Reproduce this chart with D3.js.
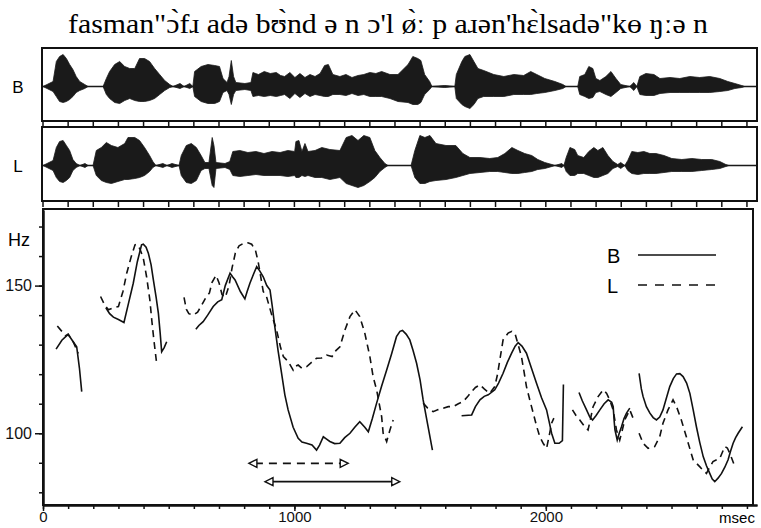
<!DOCTYPE html>
<html>
<head>
<meta charset="utf-8">
<script src="https://cdnjs.cloudflare.com/ajax/libs/d3/7.8.5/d3.min.js"></script>
<style>
  body { margin: 0; background: #fff; }
  svg { display: block; }
</style>
</head>
<body>
<svg id="chart" width="761" height="528"></svg>
<script>
// transcription shown above the panels
const title = "fasman\"ɔ̀fɹ adə bʊ̀nd ə n ɔ'l ø̀ː p aɹən'hɛ̀lsadə\"kɵ ŋːə n";
const speakers = ["B", "L"];

// oscillogram envelopes: [ms, upper amplitude, lower amplitude] (arbitrary units)
const waveB = [
  [0,0,0],[40,5,5],[53,25,10],[66,30,15],[80,32,16],[93,28,15],[106,22,13],[119,17,10],[132,10,6],[146,5,4],[166,2,2],[179,0,0],
  [239,0,0],[252,8,8],[265,15,12],[285,22,16],[305,25,17],[325,20,14],[345,18,12],[365,18,14],[384,28,15],[404,28,15],[424,25,14],[444,18,12],[464,12,8],[484,6,4],[504,2,1],[517,0,0],
  [545,3,2],[561,0,0],[584,3,2],[596,0,0],[603,15,10],[629,20,15],[656,22,17],[683,21,17],[702,20,15],[716,8,6],[732,4,4],[740,10,8],[749,26,18],[758,10,8],[767,4,4],[803,3,3],[827,4,4],
  [835,14,10],[857,12,9],[880,15,10],[904,13,9],[928,14,10],[945,11,9],[961,10,8],[982,14,12],[1002,9,7],[1022,13,11],[1042,9,7],[1062,12,10],[1082,10,8],[1102,13,9],[1120,21,10],[1135,22,10],[1153,12,8],
  [1181,10,8],[1205,12,9],[1229,9,7],[1253,11,9],[1276,12,8],[1300,14,10],[1324,13,10],[1347,15,10],[1380,12,12],[1412,12,15],[1452,22,16],[1471,30,18],[1491,28,18],[1503,26,16],[1518,12,8],[1538,5,3],[1547,0,0],
  [1598,1,1],[1638,0,0],[1644,12,12],[1666,25,18],[1678,30,20],[1698,32,22],[1714,25,18],[1730,18,12],[1753,16,10],[1793,12,10],[1833,10,10],[1873,12,8],[1912,11,8],[1940,15,8],[1964,12,7],[1996,8,6],[2036,5,4],[2068,2,2],[2080,0,0],
  [2127,0,0],[2135,10,8],[2155,12,10],[2171,20,12],[2187,18,11],[2199,8,6],[2215,6,5],[2239,10,8],[2259,15,10],[2279,8,6],[2298,2,2],[2334,0,0],[2350,4,4],[2362,0,0],
  [2374,10,8],[2398,13,9],[2430,12,9],[2454,8,7],[2494,9,6],[2533,8,6],[2573,10,6],[2612,9,6],[2652,10,6],[2692,8,5],[2724,5,4],[2752,3,2],[2779,1,1],[2791,0,0],[2840,0,0]
];
const waveL = [
  [0,0,0],[40,5,5],[53,18,12],[66,24,16],[80,25,17],[93,20,15],[106,15,12],[119,6,5],[132,2,2],[147,0,0],[167,2,2],[179,0,0],
  [199,0,0],[212,15,10],[232,18,15],[252,23,17],[272,20,18],[298,18,16],[325,22,14],[338,28,14],[365,28,13],[384,25,12],[404,18,10],[424,10,6],[437,4,2],[449,0,0],
  [477,2,2],[493,0,0],[513,2,2],[541,0,0],[550,10,10],[570,20,17],[590,22,18],[610,18,15],[629,10,5],[644,3,3],[660,3,3],[673,28,20],[680,20,22],[688,3,3],[724,2,2],[743,4,4],
  [755,14,10],[783,15,11],[815,13,10],[847,14,9],[879,12,10],[911,14,10],[943,13,10],[974,15,11],[1001,14,10],[1006,24,12],[1018,25,12],[1030,14,10],[1042,22,11],[1054,14,10],[1082,15,12],[1109,18,12],[1141,16,14],
  [1181,15,12],[1206,28,18],[1229,30,20],[1253,25,22],[1276,30,20],[1300,28,16],[1320,15,12],[1340,8,6],[1360,2,2],[1372,0,0],
  [1464,0,0],[1479,15,12],[1499,30,18],[1519,28,18],[1539,30,16],[1563,22,15],[1603,20,14],[1642,20,12],[1670,12,10],[1698,8,8],[1738,8,7],[1777,7,6],[1809,8,6],[1837,12,7],[1865,18,8],[1889,15,8],[1916,12,7],[1944,10,6],[1968,6,4],[1996,3,3],[2024,1,1],[2036,0,0],
  [2064,2,2],[2072,0,0],[2081,8,6],[2096,18,10],[2115,16,10],[2127,10,8],[2151,8,8],[2171,14,10],[2191,18,12],[2207,15,12],[2227,18,10],[2247,10,8],[2267,4,3],[2286,1,1],[2298,3,3],[2314,0,0],
  [2326,5,5],[2342,14,8],[2366,13,9],[2390,14,8],[2414,12,8],[2438,12,8],[2470,10,7],[2501,7,6],[2541,6,6],[2581,7,6],[2620,6,5],[2660,6,4],[2692,4,3],[2716,1,1],[2728,0,0],[2840,0,0]
];

// F0 contours: [ms, Hz]; null marks a break in the contour
const pitchB = [
  [52,128.5],[75,131.5],[100,133.5],[120,131],[134,129.3],[145,122],[154,114.1],[154,null],
  [250,142.5],[265,140.5],[280,139.3],[300,138.5],[322,137.5],[340,144],[359,150.8],[375,158],[392,163.8],[399,164],[410,163],[419,161],[430,157],[439,151.9],[450,146],[459,140.6],[466,134],[472,127.6],[482,129],[492,131],[492,null],
  [608,135.2],[620,136.5],[637,137.8],[655,140],[677,142.9],[695,144.5],[711,145.2],[725,150],[744,154.2],[754,153],[764,151.9],[785,148],[803,145.5],[812,148],[823,150.8],[838,154],[850,156.4],[862,155],[876,153],[890,150],[903,148.5],[912,143],[922,136.1],[935,128],[949,120.3],[962,113],[975,107.9],[995,102],[1015,98.3],[1030,97],[1048,96.6],[1070,96],[1088,94.3],[1100,96],[1115,98.8],[1128,98],[1141,97.2],[1160,96.5],[1181,96.6],[1200,98.5],[1221,100],[1240,102],[1260,103.9],[1280,102],[1294,100.5],[1310,105],[1327,110.2],[1347,116],[1367,121.4],[1387,127],[1406,132.7],[1420,134.5],[1430,134.8],[1445,133.5],[1459,131.6],[1472,128],[1486,123.7],[1500,118],[1512,111.3],[1530,103],[1549,94.3],[1549,null],
  [1665,105.9],[1705,106.2],[1720,109],[1738,111.3],[1755,112.5],[1771,113],[1797,114.7],[1812,117],[1830,120.3],[1847,124],[1864,127.1],[1878,129.5],[1890,130.7],[1905,129.5],[1923,127.1],[1943,122],[1963,116.9],[1983,112],[2003,107.9],[2013,104],[2023,100],[2036,96.6],[2053,96.6],[2066,97.5],[2070,116.5],[2070,null],
  [2132,113.8],[2145,111],[2162,107.9],[2175,105.5],[2186,104.5],[2200,106],[2215,107.9],[2232,110],[2248,111.3],[2262,110.5],[2268,109],[2272,104],[2275,101.1],[2284,97.7],[2292,100],[2301,102.2],[2311,105],[2321,106.8],[2334,108.5],[2334,null],
  [2371,120.3],[2380,115],[2387,112.4],[2400,109],[2414,106.8],[2427,105.3],[2440,104.5],[2453,105.5],[2466,107.9],[2480,112],[2493,115.8],[2507,118.5],[2520,120.1],[2533,120.2],[2546,119.2],[2560,117],[2573,113.5],[2586,108],[2599,102.2],[2612,97],[2626,92.1],[2639,89],[2652,86.4],[2662,84.5],[2672,83.6],[2685,84.8],[2699,86.4],[2712,88.5],[2725,91],[2735,94],[2745,96.6],[2755,98.5],[2765,100],[2782,102.2]
];
const pitchL = [
  [57,136.3],[75,134.5],[90,133],[100,133.5],[120,131],[140,127],[140,null],
  [229,146.3],[245,143.5],[260,141.8],[280,142.5],[300,142.9],[318,148],[333,154.2],[350,159.5],[366,163.8],[373,164],[385,162.5],[399,159.3],[412,153],[425,145.2],[433,138],[441,131.6],[452,123.7],[452,null],
  [561,146],[570,142],[580,140.5],[598,140],[615,141],[632,143.5],[648,146],[662,147.5],[672,151],[688,153.5],[700,151],[712,147],[725,146],[740,150],[752,156],[765,161],[780,163.5],[797,164.3],[815,164.5],[830,164],[845,162],[856,158],[866,153],[876,148],[889,146.3],[910,140],[929,135],[945,129],[956,126],[975,124.3],[995,121.4],[1002,122.6],[1015,123.1],[1030,122],[1048,122.5],[1068,124],[1088,125.4],[1108,125.5],[1128,126.5],[1150,126],[1165,128],[1181,129.3],[1201,135],[1221,139.5],[1241,141.8],[1260,139.5],[1280,133.9],[1300,126],[1313,119.2],[1327,114.7],[1347,105.6],[1353,100],[1367,97.2],[1380,101.1],[1393,104.5],[1393,null],
  [1512,110.2],[1530,108.5],[1552,107.3],[1572,108],[1592,108.5],[1612,109],[1632,109],[1652,110],[1671,110.7],[1690,112.5],[1705,114.1],[1720,115.5],[1738,116.4],[1755,115],[1777,113.5],[1797,115.8],[1808,120],[1817,124.8],[1830,131.6],[1850,133.9],[1865,134.5],[1877,133.9],[1890,130],[1903,126],[1913,121],[1923,115.8],[1937,111],[1950,106.8],[1963,102.5],[1976,98.8],[1990,96.5],[2003,94.9],[2013,99],[2023,103.4],[2032,105.1],[2032,null],
  [2106,107.9],[2120,106],[2135,104.5],[2155,102.2],[2168,101.1],[2178,105],[2188,109],[2208,112.4],[2228,114.7],[2242,113.5],[2254,111.3],[2268,107.9],[2281,101.1],[2294,97.7],[2304,101],[2314,104.5],[2334,107.9],[2350,104.5],[2350,null],
  [2371,100],[2387,96.6],[2407,94.9],[2433,95.5],[2453,98.8],[2466,103.4],[2486,107.9],[2506,111.3],[2520,109],[2539,104.5],[2559,98.8],[2586,91],[2612,88.7],[2625,87.5],[2639,86.4],[2652,88.5],[2665,90.4],[2692,91.5],[2712,95.5],[2722,95],[2732,93.2],[2752,88.7]
];

// double arrows under the contours: [start ms, end ms, Hz level]
const arrowL = [819, 1214, 89.8];
const arrowB = [883, 1419, 83.6];

const msTicks = d3.range(0, 2801, 100);
const msLabels = [0, 1000, 2000];
const hzTicks = d3.range(80, 171, 10);
const hzLabels = [100, 150];

const svg = d3.select("#chart");
const sans = "'Liberation Sans', Arial, sans-serif";

const x = d3.scaleLinear().domain([0, 2840]).range([43, 757]);
const y = d3.scaleLinear().domain([75.7, 175.6]).range([505, 210]);

// title
svg.append("text")
  .attr("x", 388).attr("y", 33)
  .attr("text-anchor", "middle")
  .attr("textLength", 640)
  .attr("lengthAdjust", "spacingAndGlyphs")
  .style("font-family", "'Liberation Serif', 'Times New Roman', serif")
  .style("font-size", "27px")
  .text(title);

// oscillogram panels
const panels = [
  { name: "B", data: waveB, top: 48, bottom: 121, base: 86.5 },
  { name: "L", data: waveL, top: 127, bottom: 201, base: 165.5 }
];

panels.forEach(p => {
  const amp = d3.scaleLinear().domain([-40, 40]).range([p.base + 40, p.base - 40]);
  const g = svg.append("g");
  g.append("line")
    .attr("x1", 42).attr("x2", 757)
    .attr("y1", p.base).attr("y2", p.base)
    .attr("stroke", "#111").attr("stroke-width", 1.5);
  const area = d3.area()
    .x(d => x(d[0]))
    .y0(d => amp(-d[2]))
    .y1(d => amp(d[1]));
  g.append("path")
    .datum(p.data)
    .attr("d", area)
    .attr("fill", "#1a1a1a")
    .attr("stroke", "#1a1a1a")
    .attr("stroke-width", 0.8);
  g.append("rect")
    .attr("x", 42).attr("y", p.top)
    .attr("width", 757 - 42).attr("height", p.bottom - p.top)
    .attr("fill", "none").attr("stroke", "#111").attr("stroke-width", 2);
  g.append("text")
    .attr("x", 18).attr("y", p.base + 6)
    .attr("text-anchor", "middle")
    .style("font-family", sans).style("font-size", "17px")
    .text(p.name);
});

// time-scale strips between the panels
[[121, 127], [201, 207]].forEach(([y0, y1]) => {
  svg.append("g").selectAll("line")
    .data(msTicks)
    .join("line")
    .attr("x1", d => x(d)).attr("x2", d => x(d))
    .attr("y1", y0).attr("y2", y1)
    .attr("stroke", "#111").attr("stroke-width", 1.5);
});

// F0 panel frame
svg.append("rect")
  .attr("x", 43).attr("y", 209)
  .attr("width", 753 - 43).attr("height", 505 - 209)
  .attr("fill", "none").attr("stroke", "#111").attr("stroke-width", 2);

// axes
const xMinor = svg.append("g")
  .attr("transform", "translate(0,505)")
  .call(d3.axisBottom(x).tickValues(msTicks).tickSize(4).tickSizeOuter(0).tickFormat(""));
const xMajor = svg.append("g")
  .attr("transform", "translate(0,505)")
  .call(d3.axisBottom(x).tickValues(msLabels).tickSize(6).tickSizeOuter(0).tickFormat(d3.format("d")));
const yMinor = svg.append("g")
  .attr("transform", "translate(43,0)")
  .call(d3.axisLeft(y).tickValues(hzTicks).tickSize(4).tickSizeOuter(0).tickFormat(""));
const yMajor = svg.append("g")
  .attr("transform", "translate(43,0)")
  .call(d3.axisLeft(y).tickValues(hzLabels).tickSize(8).tickSizeOuter(0).tickPadding(3));

[xMinor, xMajor, yMinor, yMajor].forEach(a => {
  a.select(".domain").attr("stroke", "#111").attr("stroke-width", 2);
  a.selectAll(".tick line").attr("stroke", "#111").attr("stroke-width", 1.5);
  a.selectAll("text").attr("fill", "#111")
    .style("font-family", sans).style("font-size", "16px");
});
xMajor.selectAll("text").attr("y", 6).attr("dy", "0.71em").style("font-size", "15px");

svg.append("text")
  .attr("x", 737).attr("y", 523)
  .attr("text-anchor", "middle")
  .style("font-family", sans).style("font-size", "15px")
  .text("msec");

svg.append("text")
  .attr("x", 8).attr("y", 246)
  .style("font-family", sans).style("font-size", "18px")
  .text("Hz");

// contours
const line = d3.line()
  .defined(d => d[1] !== null)
  .x(d => x(d[0]))
  .y(d => y(d[1]));

svg.append("path")
  .datum(pitchL)
  .attr("d", line)
  .attr("fill", "none").attr("stroke", "#111")
  .attr("stroke-width", 1.6)
  .attr("stroke-dasharray", "7,5");

svg.append("path")
  .datum(pitchB)
  .attr("d", line)
  .attr("fill", "none").attr("stroke", "#111")
  .attr("stroke-width", 1.6);

// double-headed arrows
function arrow(a, dashed) {
  const x0 = x(a[0]), x1 = x(a[1]), yy = y(a[2]);
  const g = svg.append("g");
  g.append("line")
    .attr("x1", x0 + 6).attr("x2", x1 - 6)
    .attr("y1", yy).attr("y2", yy)
    .attr("stroke", "#111").attr("stroke-width", 1.6)
    .attr("stroke-dasharray", dashed ? "8,6" : null);
  g.append("path")
    .attr("d", `M${x0 + 8},${yy - 4}L${x0},${yy}L${x0 + 8},${yy + 4}Z M${x1 - 8},${yy - 4}L${x1},${yy}L${x1 - 8},${yy + 4}Z`)
    .attr("fill", "#fff").attr("stroke", "#111").attr("stroke-width", 1.4);
}
arrow(arrowL, true);
arrow(arrowB, false);

// legend
const legend = svg.append("g");
speakers.forEach((s, i) => {
  const ly = 255 + i * 30;
  legend.append("text")
    .attr("x", 607).attr("y", ly + 8)
    .style("font-family", sans).style("font-size", "20px")
    .text(s);
  legend.append("line")
    .attr("x1", 638).attr("x2", 716)
    .attr("y1", ly).attr("y2", ly)
    .attr("stroke", "#111").attr("stroke-width", 1.6)
    .attr("stroke-dasharray", i === 1 ? "9,8" : null);
});
</script>
</body>
</html>
